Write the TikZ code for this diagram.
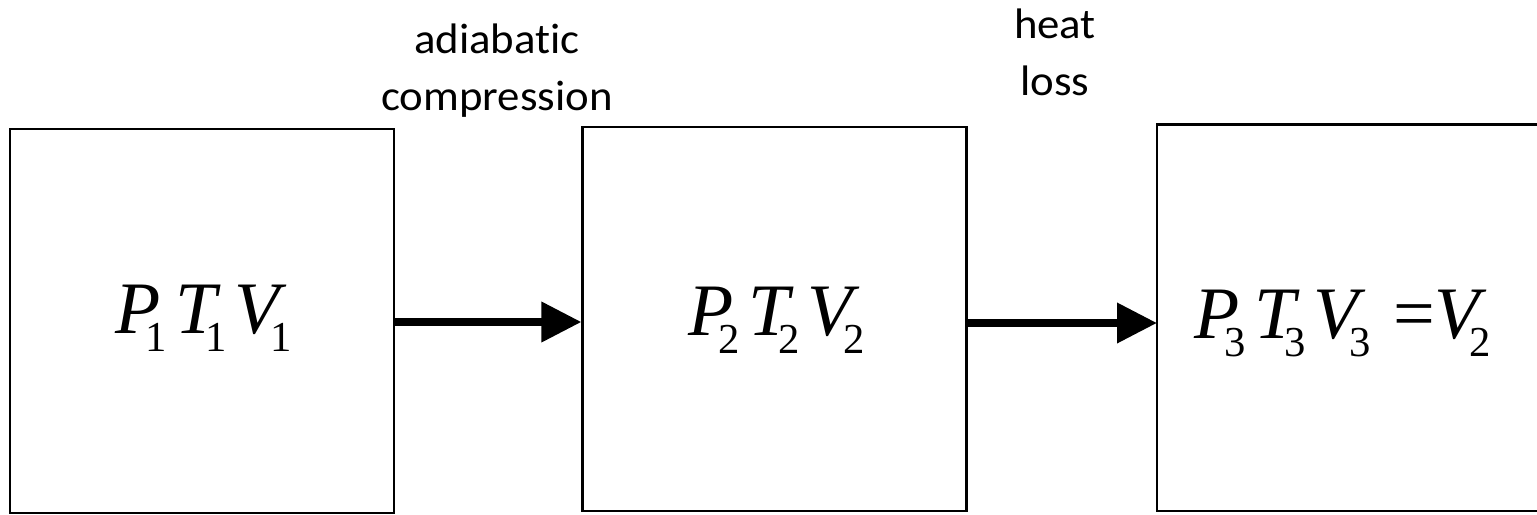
\documentclass[tikz,border=0pt]{standalone}
\usepackage{fontspec}
\setmainfont{Liberation Serif}
\newfontfamily\lblfont[FakeStretch=1.05,Ligatures=CommonOff,RawFeature={-liga;-clig;-dlig}]{Carlito}
\usetikzlibrary{arrows.meta}
\newcommand\psub[3]{{\itshape #1}\kern#3\raisebox{-14pt}{\fontsize{32}{32}\selectfont #2}}
\begin{document}
\begin{tikzpicture}[x=0.75pt,y=-0.75pt,
  statebox/.style={draw,line width=1.6pt,minimum width=288pt,minimum height=288pt,inner sep=0pt},
  boxline/.style={line width=1.6pt},
  formula/.style={anchor=base west,inner sep=0pt,font=\fontsize{55.5}{60}\selectfont},
  proclabel/.style={font=\lblfont\fontsize{32}{42.75}\selectfont,align=center,inner sep=0pt,anchor=base},
  flow/.style={line width=6pt,-{Triangle[length=30pt,width=29pt]}}]
\useasboundingbox (0,0) rectangle (1537,514);
\node[statebox] (b1) at (202,321) {};
\node[statebox] (b2) at (774.5,319) {};
\node[statebox,draw=none,anchor=west] (b3) at (1157,317.5) {};
\draw[boxline] (b3.north east) -- (b3.north west) -- (b3.south west) -- (b3.south east);
\node[formula] (f1) at (115,333) {\psub{P}{1}{-11pt}\kern6pt\psub{T}{1}{-8pt}\kern6pt\psub{V}{1}{-7.5pt}};
\node[formula] (f2) at (688,335) {\psub{P}{2}{-11pt}\kern6pt\psub{T}{2}{-8pt}\kern6pt\psub{V}{2}{-7.5pt}};
\node[formula] (f3) at (1194,338) {\psub{P}{3}{-11pt}\kern6pt\psub{T}{3}{-8pt}\kern6pt\psub{V}{3}{-7.5pt}\kern17.6pt=\kern-1pt\psub{V}{2}{-7.5pt}};
\node[proclabel] (l1) at (497,110) {adiabatic\\compression};
\node[proclabel] (l2) at (1055,95) {heat\\loss};
\draw[flow] ([yshift=-0.75pt]b1.east) -- ([yshift=-0.75pt]b1.east -| b2.west);
\draw[flow] ([yshift=-3pt]b2.east) -- ([yshift=-3pt]b2.east -| b3.west);
\end{tikzpicture}
\end{document}
